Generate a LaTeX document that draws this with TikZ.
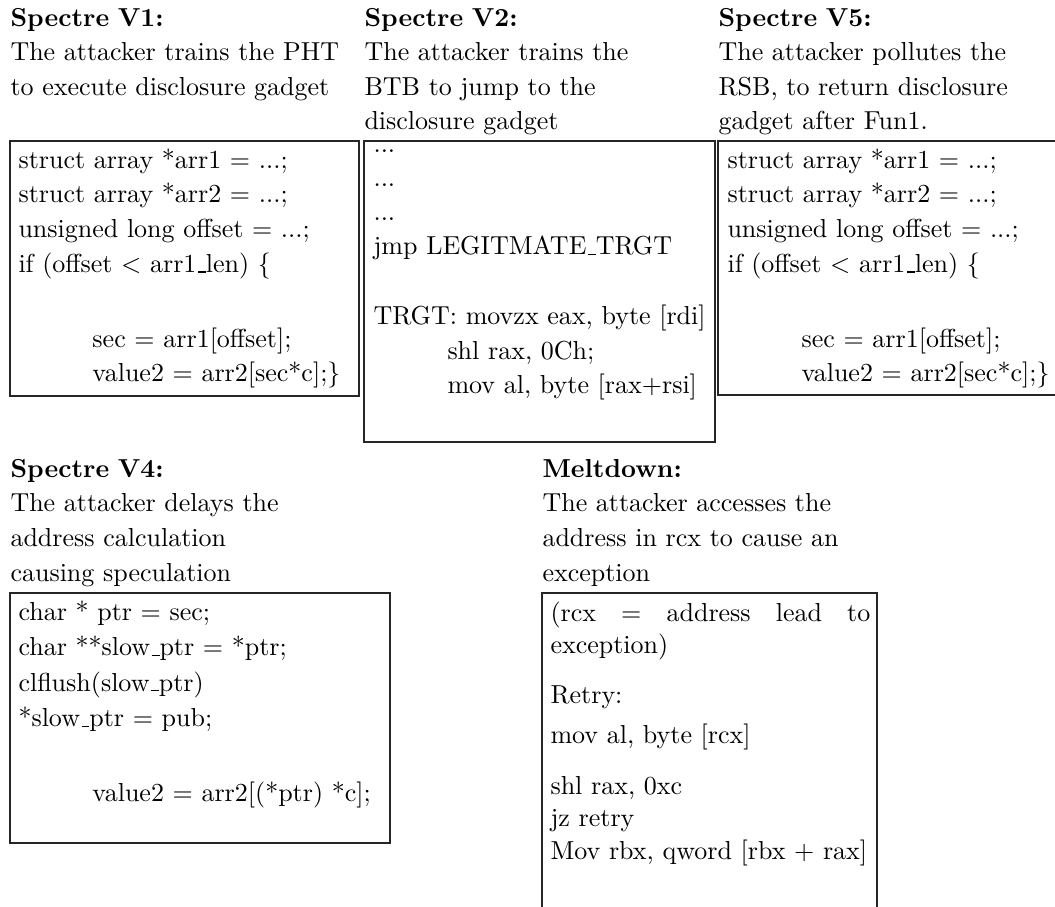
\documentclass[tikz,border=0pt]{standalone}
\usetikzlibrary{fit}
\newcommand\lowbar{\leavevmode\kern.06em\vbox{\hrule width.3em}}
\tikzset{
  box/.style={draw=black!85, line width=0.45pt, inner sep=0pt},
  ttl/.style={anchor=base west, inner sep=0pt, text width=150pt, align=left, font=\fontsize{10}{13.3}\selectfont},
  codetext/.style={anchor=base west, inner sep=0pt, text width=150pt, align=left},
}
\begin{document}
\begin{tikzpicture}[x=0.38462pt, y=-0.38462pt]
\useasboundingbox (0,0) rectangle (1055,906);
\clip (0,0) rectangle (1055,906);

% ---------- Spectre V1 ----------
\node[ttl] (v1title) at (10,26) {\textbf{Spectre V1:}\\The attacker trains the PHT\\to execute disclosure gadget};
\node[box, fit={(10,141) (359,396)}] (v1box) {};
\node[codetext, font=\fontsize{10}{13.4}\selectfont] (v1code) at (18,168)
 {struct array *arr1 $=$ ...;\\
  struct array *arr2 $=$ ...;\\
  unsigned long offset $=$ ...;\\
  if (offset $<$ arr1\lowbar len) \{\\[15.3pt]
  \hspace*{1cm}sec $=$ arr1[offset];\\
  \hspace*{1cm}value2 $=$ arr2[sec*c];\}};

% ---------- Spectre V2 ----------
\node[ttl] (v2title) at (364,26) {\textbf{Spectre V2:}\\The attacker trains the\\BTB to jump to the\\disclosure gadget};
\node[box, fit={(364,141) (715,442)}] (v2box) {};
\node[codetext, font=\fontsize{10}{13.2}\selectfont] (v2code) at (373,152)
 {...\\
  ...\\
  ...\\
  jmp LEGITMATE\lowbar TRGT\\[13.7pt]
  TRGT: movzx eax, byte [rdi]\\
  \hspace*{1cm}shl rax, 0Ch;\\
  \hspace*{1cm}mov al, byte [rax+rsi]};

% ---------- Spectre V5 ----------
\node[ttl] (v5title) at (718,26) {\textbf{Spectre V5:}\\The attacker pollutes the\\RSB, to return disclosure\\gadget after Fun1.};
\node[box, fit={(718,141) (1080,395)}] (v5box) {};
\node[codetext, font=\fontsize{10}{13.4}\selectfont] (v5code) at (727,168)
 {struct array *arr1 $=$ ...;\\
  struct array *arr2 $=$ ...;\\
  unsigned long offset $=$ ...;\\
  if (offset $<$ arr1\lowbar len) \{\\[15.3pt]
  \hspace*{1cm}sec $=$ arr1[offset];\\
  \hspace*{1cm}value2 $=$ arr2[sec*c];\}};

% ---------- Spectre V4 ----------
\node[ttl, font=\fontsize{10}{13.35}\selectfont] (v4title) at (10,477) {\textbf{Spectre V4:}\\The attacker delays the\\address calculation\\causing speculation};
\node[box, fit={(10,593) (390,843)}] (v4box) {};
\node[codetext, font=\fontsize{10}{13.7}\selectfont] (v4code) at (18,620)
 {char * ptr $=$ sec;\\
  char **slow\lowbar ptr $=$ *ptr;\\
  clflush(slow\lowbar ptr)\\
  {*}slow\lowbar ptr $=$ pub;\\[15.1pt]
  \hspace*{1cm}value2 $=$ arr2[(*ptr) *c];};

% ---------- Meltdown ----------
\node[ttl, font=\fontsize{10}{13.35}\selectfont] (mdtitle) at (542,477) {\textbf{Meltdown:}\\The attacker accesses the\\address in rcx to cause an\\exception};
\node[box, fit={(542,593) (877,940)}] (mdbox) {};
\node[anchor=base west, inner sep=0pt, text width=123pt, align=justify, font=\fontsize{10}{12.4}\selectfont] (mdcode) at (550,621)
 {\tolerance=10000 \hbadness=10000 \hyphenpenalty=10000
  (rcx $=$ address lead to \mbox{exception)}\\[6.8pt]
  Retry:\\[3pt]
  mov al, byte [rcx]\\[7.4pt]
  shl rax, 0xc\\
  jz retry\\
  Mov rbx, qword [rbx $+$ rax]};
\end{tikzpicture}
\end{document}
